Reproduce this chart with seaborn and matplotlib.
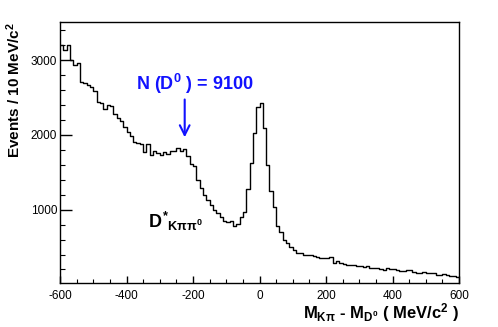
import numpy as np
import pandas as pd
import matplotlib
matplotlib.use("Agg")
import matplotlib.pyplot as plt
from matplotlib.ticker import MultipleLocator
import seaborn as sns

# histogram data, 10 MeV bins from -600 to 600
bin_edges = np.arange(-600, 610, 10)
counts = [
    3200, 3140, 3200, 3000, 2930, 2960, 2710, 2700, 2670, 2640,
    2580, 2440, 2430, 2340, 2400, 2390, 2280, 2220, 2180, 2100,
    2040, 1990, 1900, 1890, 1880, 1770, 1880, 1730, 1780, 1760,
    1730, 1770, 1750, 1780, 1790, 1820, 1780, 1810, 1720, 1610,
    1580, 1400, 1290, 1200, 1130, 1060, 995, 955, 900, 850,
    830, 850, 785, 810, 900, 970, 1275, 1630, 2020, 2370,
    2420, 2090, 1600, 1250, 1040, 780, 700, 600, 555, 500,
    460, 425, 420, 400, 395, 390, 375, 370, 355, 355,
    350, 370, 290, 310, 285, 270, 255, 260, 265, 250,
    240, 235, 240, 225, 220, 215, 200, 195, 215, 205,
    200, 190, 185, 185, 190, 195, 165, 158, 158, 170,
    155, 150, 150, 130, 125, 140, 130, 115, 110, 105,
]
x_ticks = [-600, -400, -200, 0, 200, 400, 600]
y_ticks = [1000, 2000, 3000]

df = pd.DataFrame({"dm": (bin_edges[:-1] + bin_edges[1:]) / 2, "n": counts})

sns.set_style("ticks")
plt.rcParams["font.family"] = ["Liberation Sans", "DejaVu Sans"]
plt.rcParams["axes.unicode_minus"] = False
plt.rcParams["text.color"] = "black"
plt.rcParams["axes.labelcolor"] = "black"
plt.rcParams["xtick.color"] = "black"
plt.rcParams["ytick.color"] = "black"
plt.rcParams["mathtext.fontset"] = "custom"
plt.rcParams["mathtext.rm"] = "Liberation Sans:bold"
plt.rcParams["mathtext.it"] = "Liberation Sans:bold"
plt.rcParams["mathtext.bf"] = "Liberation Sans:bold"

fig = plt.figure(figsize=(4.98, 3.27), dpi=100)
ax = fig.add_axes([0.1205, 0.1336, 0.8012, 0.7982])

sns.histplot(data=df, x="dm", weights="n", binwidth=10, binrange=(-600, 600),
             element="step", fill=False, color="black", linewidth=1.0, ax=ax)

ax.set_xlim(-600, 600)
ax.set_ylim(15, 3505)
ax.set_xticks(x_ticks)
ax.set_yticks(y_ticks)
ax.xaxis.set_minor_locator(MultipleLocator(50))
ax.yaxis.set_minor_locator(MultipleLocator(200))
ax.tick_params(axis="x", which="major", direction="in", length=5, width=1,
               labelsize=8.5, pad=5, top=False)
ax.tick_params(axis="x", which="minor", direction="in", length=3, width=0.8, top=False)
ax.tick_params(axis="y", which="major", direction="in", length=8.5, width=1,
               labelsize=8.5, pad=2, right=False)
ax.tick_params(axis="y", which="minor", direction="in", length=3.6, width=0.8, right=False)
for s in ax.spines.values():
    s.set_linewidth(1.0)
    s.set_color("black")

ax.set_xlabel(r"$M_{K\pi}$ - $M_{D^0}$ ( MeV/c$^2$ )", fontsize=12,
              fontweight="bold", ha="right", x=1.0)
ax.set_ylabel(r"Events / 10 MeV/c$^2$", fontsize=11, fontweight="bold",
              ha="right", y=1.0)
ax.xaxis.set_label_coords(1.0, -0.07)
ax.yaxis.set_label_coords(-0.093, 1.0)

ax.text(-371, 2680, r"N (D$^0$ ) = 9100", color="#1212ff", fontsize=13,
        fontweight="bold", va="center", ha="left")
ax.annotate("", xy=(-225, 1930), xytext=(-225, 2510),
            arrowprops=dict(arrowstyle="->,head_length=0.7,head_width=0.35",
                            color="#1212ff", lw=1.5))
ax.text(-335, 755, r"$D^{*}{}_{K\pi\pi^{0}}$", fontsize=13, color="black",
        ha="left", va="baseline")

fig.savefig("out.png", dpi=100)
